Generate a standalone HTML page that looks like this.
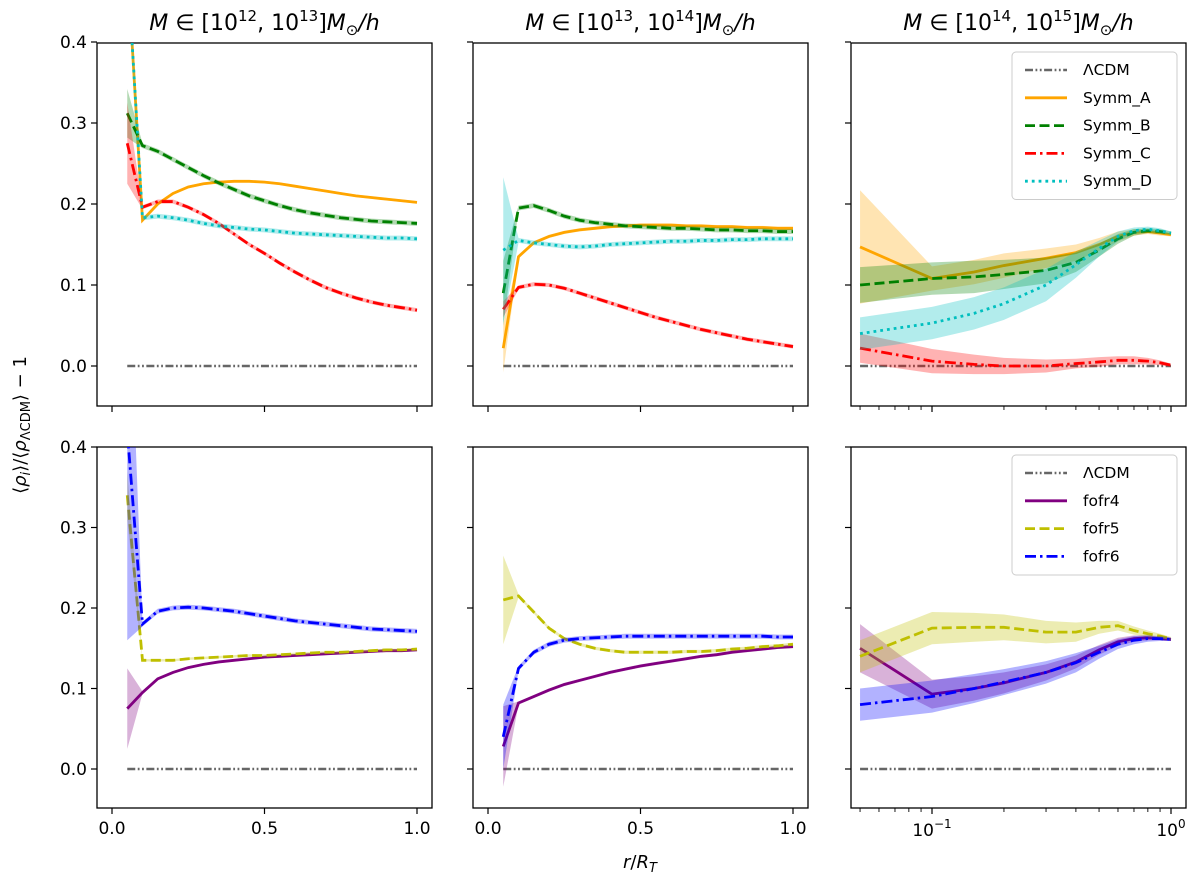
<!DOCTYPE html>
<html><head><meta charset="utf-8"><style>
body{margin:0;background:#fff}
svg{display:block;font-family:"DejaVu Sans","Liberation Sans",sans-serif}
</style></head><body>
<svg id="c" width="1200" height="884" viewBox="0 0 1200 884"></svg>
<script>
const xLin=[0.05,0.1,0.15,0.2,0.25,0.3,0.35,0.4,0.45,0.5,0.55,0.6,0.65,0.7,0.75,0.8,0.85,0.9,0.95,1.0];
const xLog=[0.05,0.1,0.15,0.2,0.3,0.4,0.5,0.6,0.7,0.8,0.9,1.0];
// top-left
const p00A=[0.5,0.18,0.2,0.213,0.221,0.225,0.227,0.228,0.228,0.227,0.225,0.222,0.219,0.216,0.213,0.21,0.208,0.206,0.204,0.202];
const p00B=[0.312,0.272,0.265,0.255,0.245,0.235,0.226,0.218,0.21,0.204,0.198,0.193,0.189,0.186,0.183,0.181,0.179,0.178,0.177,0.176];
const p00C=[0.275,0.196,0.203,0.203,0.196,0.187,0.176,0.163,0.15,0.139,0.127,0.116,0.106,0.097,0.09,0.084,0.079,0.075,0.072,0.069];
const p00D=[0.5,0.183,0.185,0.183,0.18,0.176,0.173,0.171,0.169,0.168,0.166,0.164,0.163,0.162,0.161,0.16,0.159,0.158,0.158,0.157];
// top-middle
const p01A=[0.022,0.135,0.152,0.16,0.165,0.168,0.17,0.172,0.173,0.174,0.174,0.174,0.173,0.173,0.172,0.172,0.171,0.171,0.17,0.17];
const p01B=[0.09,0.195,0.198,0.192,0.185,0.18,0.177,0.175,0.173,0.172,0.171,0.17,0.17,0.169,0.168,0.168,0.167,0.167,0.166,0.166];
const p01C=[0.07,0.097,0.101,0.1,0.096,0.09,0.084,0.078,0.072,0.066,0.06,0.055,0.05,0.045,0.041,0.037,0.033,0.03,0.027,0.024];
const p01D=[0.143,0.155,0.152,0.15,0.148,0.147,0.148,0.15,0.151,0.152,0.153,0.154,0.154,0.155,0.155,0.156,0.156,0.157,0.157,0.157];
// top-right
const p02A=[0.147,0.108,0.116,0.124,0.133,0.14,0.15,0.16,0.165,0.166,0.164,0.162];
const p02B=[0.1,0.108,0.11,0.113,0.118,0.128,0.143,0.157,0.165,0.167,0.166,0.164];
const p02C=[0.022,0.006,0.002,0.0,0.0,0.003,0.005,0.007,0.007,0.006,0.004,0.001];
const p02D=[0.04,0.053,0.065,0.077,0.1,0.125,0.145,0.16,0.167,0.169,0.167,0.164];
// bottom-left
const p10F4=[0.075,0.095,0.112,0.12,0.126,0.13,0.133,0.135,0.137,0.139,0.14,0.141,0.142,0.143,0.144,0.145,0.146,0.147,0.147,0.148];
const p10F5=[0.34,0.135,0.135,0.135,0.137,0.138,0.139,0.14,0.141,0.141,0.142,0.143,0.144,0.145,0.145,0.146,0.147,0.148,0.148,0.149];
const p10F6=[0.42,0.18,0.196,0.2,0.201,0.2,0.198,0.196,0.193,0.19,0.187,0.184,0.182,0.18,0.178,0.176,0.174,0.173,0.172,0.171];
// bottom-middle
const p11F4=[0.028,0.082,0.09,0.098,0.105,0.11,0.115,0.12,0.124,0.128,0.131,0.134,0.137,0.14,0.142,0.145,0.147,0.149,0.151,0.152];
const p11F5=[0.21,0.215,0.195,0.175,0.162,0.155,0.15,0.147,0.145,0.145,0.145,0.145,0.146,0.146,0.147,0.149,0.15,0.152,0.153,0.155];
const p11F6=[0.04,0.125,0.145,0.155,0.16,0.162,0.163,0.164,0.165,0.165,0.165,0.165,0.165,0.165,0.165,0.165,0.165,0.165,0.164,0.164];
// bottom-right
const p12F4=[0.15,0.093,0.1,0.107,0.12,0.133,0.148,0.158,0.162,0.163,0.162,0.161];
const p12F5=[0.14,0.175,0.176,0.176,0.17,0.17,0.176,0.178,0.172,0.168,0.165,0.162];
const p12F6=[0.08,0.09,0.1,0.108,0.12,0.132,0.145,0.155,0.16,0.162,0.162,0.161];
const yTicks=[0.0,0.1,0.2,0.3,0.4];
const yTickLabels=["0.0","0.1","0.2","0.3","0.4"];
const xTicksLin=[0.0,0.5,1.0];
const xTickLabelsLin=["0.0","0.5","1.0"];

const NS="http://www.w3.org/2000/svg";
const svg=document.getElementById('c');
function el(t,a,p){const e=document.createElementNS(NS,t);for(const k in a)e.setAttribute(k,a[k]);(p||svg).appendChild(e);return e;}
const cols=[{l:97,r:432,lin:true,x0:112,x1:417},{l:473,r:808,lin:true,x0:488,x1:793},{l:851,r:1186,lin:false}];
const rows=[{t:43,b:406,y0:366,y4:42},{t:447,b:808,y0:769,y4:447}];
const STY={
 L:{c:'#666666',d:'8,2.5,1.8,2.5,1.8,2.5',w:2.5},
 A:{c:'#ffa500',d:'',w:2.8},B:{c:'#008000',d:'10,4.5',w:2.8},C:{c:'#ff0000',d:'11,4,2.5,4',w:2.8},D:{c:'#00bfbf',d:'2.8,4',w:2.8},
 F4:{c:'#800080',d:'',w:2.8},F5:{c:'#bfbf00',d:'10,4.5',w:2.8},F6:{c:'#0000ff',d:'11,4,2.5,4',w:2.8}};
function xf(ci,v){const c=cols[ci];if(c.lin)return c.x0+(c.x1-c.x0)*v;return 1171+239*Math.log10(v);}
function yf(ri,v){const r=rows[ri];return r.y0+(r.y4-r.y0)*v/0.4;}
let clipN=0;
function clipFor(ci,ri){const id='cl'+(clipN++);const d=el('clipPath',{id});el('rect',{x:cols[ci].l,y:rows[ri].t,width:cols[ci].r-cols[ci].l,height:rows[ri].b-rows[ri].t},d);return 'url(#'+id+')';}
function series(ci,ri,xs,ys,errs,key,name){
 const s=STY[key];const g=el('g',{'clip-path':clipFor(ci,ri)});
 
 if(errs){let up=xs.map((x,i)=>xf(ci,x)+','+yf(ri,ys[i]+errs[i]));let dn=xs.map((x,i)=>xf(ci,x)+','+yf(ri,ys[i]-errs[i])).reverse();
  const b=el('polygon',{points:up.concat(dn).join(' '),fill:s.c,'fill-opacity':0.3,stroke:'none'},g);
  }
 const p=el('polyline',{points:xs.map((x,i)=>xf(ci,x)+','+yf(ri,ys[i])).join(' '),fill:'none',stroke:s.c,'stroke-width':s.w,'stroke-dasharray':s.d},g);
 
}
function errArr(n,first,rest){return Array.from({length:n},(_,i)=>i==0?first:rest);}
for(let ci=0;ci<3;ci++)for(let ri=0;ri<2;ri++){
 const c=cols[ci],r=rows[ri];
 const fr=el('rect',{x:c.l,y:r.t,width:c.r-c.l,height:r.b-r.t,fill:'none',stroke:'#000','stroke-width':1.3});
 
 yTicks.forEach((v,i)=>{const y=yf(ri,v);el('line',{x1:c.l-6,x2:c.l,y1:y,y2:y,stroke:'#000','stroke-width':1.2});
  if(ci==0){const t=el('text',{x:c.l-10,y:y+6,'text-anchor':'end','font-size':17});t.textContent=yTickLabels[i];
   }});
 if(c.lin){xTicksLin.forEach((v,i)=>{const x=xf(ci,v);el('line',{x1:x,x2:x,y1:r.b,y2:r.b+6,stroke:'#000','stroke-width':1.2});
   if(ri==1){const t=el('text',{x:x,y:r.b+26,'text-anchor':'middle','font-size':17});t.textContent=xTickLabelsLin[i];
    }});}
 else{[0.05,0.06,0.07,0.08,0.09,0.2,0.3,0.4,0.5,0.6,0.7,0.8,0.9].forEach(v=>{const x=xf(ci,v);el('line',{x1:x,x2:x,y1:r.b,y2:r.b+4,stroke:'#000','stroke-width':0.9});});
  [0.1,1].forEach((v,i)=>{const x=xf(ci,v);el('line',{x1:x,x2:x,y1:r.b,y2:r.b+6,stroke:'#000','stroke-width':1.2});
   if(ri==1){const t=el('text',{x:x,y:r.b+28,'text-anchor':'middle','font-size':17});t.innerHTML=i==0?'10<tspan dy="-8" font-size="12">−1</tspan>':'10<tspan dy="-8" font-size="12">0</tspan>';
    }});}
 series(ci,ri,[0.05,1.0],[0,0],null,'L','lcdm-'+ri+'-'+ci);
}
series(0,0,xLin,p00A,errArr(20,0.02,0.0015),'A','symm-a-p1');
series(0,0,xLin,p00B,errArr(20,0.03,0.003),'B','symm-b-p1');
series(0,0,xLin,p00C,errArr(20,0.05,0.0025),'C','symm-c-p1');
series(0,0,xLin,p00D,errArr(20,0.02,0.003),'D','symm-d-p1');
series(1,0,xLin,p01A,errArr(20,0.03,0.002),'A','symm-a-p2');
series(1,0,xLin,p01B,errArr(20,0.04,0.003),'B','symm-b-p2');
series(1,0,xLin,p01C,errArr(20,0.01,0.0025),'C','symm-c-p2');
series(1,0,xLin,p01D,errArr(20,0.09,0.003),'D','symm-d-p2');
series(2,0,xLog,p02A,[0.07,0.015,0.015,0.015,0.012,0.01,0.008,0.006,0.004,0.003,0.003,0.002],'A','symm-a-p3');
series(2,0,xLog,p02B,[0.022,0.02,0.02,0.018,0.016,0.012,0.008,0.006,0.004,0.003,0.003,0.002],'B','symm-b-p3');
series(2,0,xLog,p02C,[0.018,0.015,0.012,0.01,0.008,0.006,0.006,0.005,0.005,0.004,0.003,0.002],'C','symm-c-p3');
series(2,0,xLog,p02D,[0.02,0.02,0.02,0.02,0.02,0.016,0.01,0.006,0.004,0.003,0.003,0.002],'D','symm-d-p3');
series(0,1,xLin,p10F4,errArr(20,0.05,0.0015),'F4','fofr4-p1');
series(0,1,xLin,p10F5,errArr(20,0.03,0.0015),'F5','fofr5-p1');
series(0,1,xLin,p10F6,errArr(20,0.26,0.003),'F6','fofr6-p1');
series(1,1,xLin,p11F4,errArr(20,0.05,0.002),'F4','fofr4-p2');
series(1,1,xLin,p11F5,errArr(20,0.055,0.002),'F5','fofr5-p2');
series(1,1,xLin,p11F6,errArr(20,0.04,0.003),'F6','fofr6-p2');
series(2,1,xLog,p12F4,[0.03,0.018,0.015,0.013,0.01,0.008,0.006,0.005,0.004,0.003,0.002,0.002],'F4','fofr4-p3');
series(2,1,xLog,p12F5,[0.02,0.02,0.018,0.016,0.014,0.012,0.008,0.006,0.005,0.004,0.003,0.002],'F5','fofr5-p3');
series(2,1,xLog,p12F6,[0.02,0.02,0.018,0.016,0.014,0.012,0.008,0.006,0.005,0.004,0.003,0.002],'F6','fofr6-p3');
const titles=[['12','13'],['13','14'],['14','15']];
titles.forEach((t,i)=>{const cx=(cols[i].l+cols[i].r)/2;
 const e=el('text',{x:cx,y:30,'text-anchor':'middle','font-size':22});
 e.innerHTML='<tspan font-style="italic">M</tspan> ∈ [10<tspan dy="-9" font-size="15">'+t[0]+'</tspan><tspan dy="9">, 10</tspan><tspan dy="-9" font-size="15">'+t[1]+'</tspan><tspan dy="9">]</tspan><tspan font-style="italic">M</tspan><tspan dy="5" font-size="15">⊙</tspan><tspan dy="-5" font-style="italic">/h</tspan>';
 });
const yl=el('text',{x:0,y:0,'text-anchor':'middle','font-size':18,transform:'translate(26,425) rotate(-90)'});
yl.innerHTML='⟨<tspan font-style="italic">ρ</tspan><tspan dy="4" font-size="13" font-style="italic">i</tspan><tspan dy="-4">⟩/⟨</tspan><tspan font-style="italic">ρ</tspan><tspan dy="4" font-size="13">ΛCDM</tspan><tspan dy="-4">⟩ − 1</tspan>';

const xl=el('text',{x:640,y:868,'text-anchor':'middle','font-size':18});
xl.innerHTML='<tspan font-style="italic">r</tspan>/<tspan font-style="italic">R</tspan><tspan dy="4" font-size="13" font-style="italic">T</tspan>';

function legend(x,y,items,name){
 const g=el('g',{});
 el('rect',{x:x,y:y,width:165,height:items.length*27.5+10,rx:4,fill:'#fff','fill-opacity':0.8,stroke:'#ccc'},g);
 items.forEach((it,i)=>{const yy=y+18+i*27.8;const s=STY[it[0]];
  const ln=el('line',{x1:x+13,x2:x+55,y1:yy,y2:yy,stroke:s.c,'stroke-width':s.w,'stroke-dasharray':s.d},g);
  
  const t=el('text',{x:x+71,y:yy+5,'font-size':15.5},g);t.textContent=it[1];
  });
}
legend(1012,52,[['L','ΛCDM'],['A','Symm_A'],['B','Symm_B'],['C','Symm_C'],['D','Symm_D']],'legend-symm');
legend(1012,455,[['L','ΛCDM'],['F4','fofr4'],['F5','fofr5'],['F6','fofr6']],'legend-fofr');
</script>
</body></html>
